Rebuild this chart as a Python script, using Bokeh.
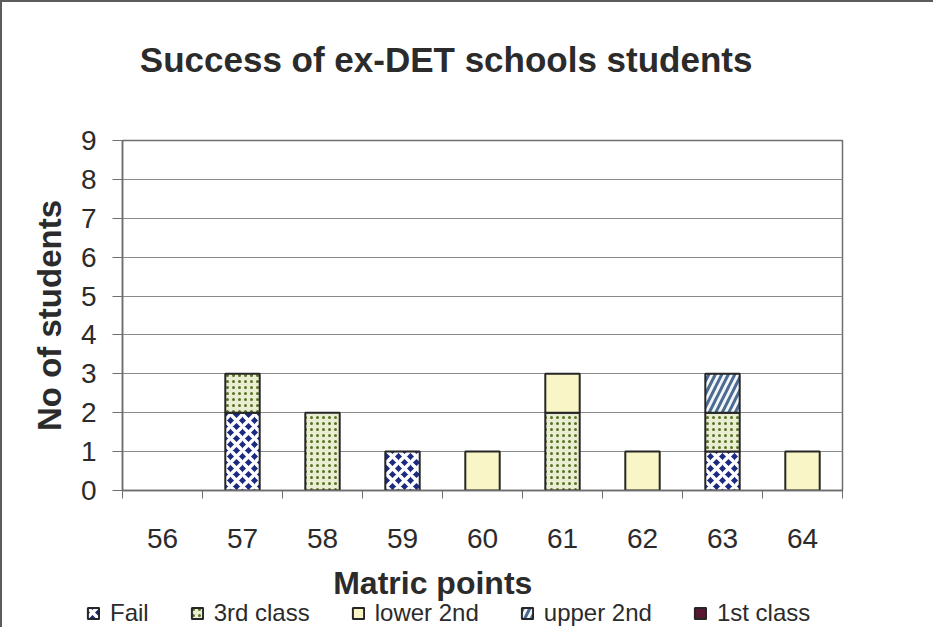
from bokeh.plotting import figure
from bokeh.layouts import column
from bokeh.models import (Range1d, FixedTicker, Label, Legend, LegendItem, ColumnDataSource)
from bokeh.embed import file_html
from bokeh.resources import INLINE

# ---- data ----
categories = ["56", "57", "58", "59", "60", "61", "62", "63", "64"]
fail = [0, 2, 0, 1, 0, 0, 0, 1, 0]
third_class = [0, 1, 2, 0, 0, 2, 0, 1, 0]
lower_2nd = [0, 0, 0, 0, 1, 1, 1, 0, 1]
upper_2nd = [0, 0, 0, 0, 0, 0, 0, 1, 0]
first_class = [0, 0, 0, 0, 0, 0, 0, 0, 0]
series_names = ["Fail", "3rd class", "lower 2nd", "upper 2nd", "1st class"]
y_ticks = list(range(10))

chart_title = "Success of ex-DET schools students"
x_title = "Matric points"
y_title = "No of students"

FONT = "Liberation Sans"
TXT = "#2b2b2b"
AX = "#6e6e6e"
BORDER = "2px solid #5c5c5c"
W = 931

series_values = [fail, third_class, lower_2nd, upper_2nd, first_class]
styles = [
    dict(fill_color="#1c2a80", hatch_pattern="x", hatch_color="white", hatch_scale=12, hatch_weight=3.5),
    dict(fill_color="#e9edd2", hatch_pattern="dot", hatch_color="#587223", hatch_scale=6, hatch_weight=5),
    dict(fill_color="#f9f5c6", hatch_pattern=" ", hatch_color="white", hatch_scale=10, hatch_weight=1),
    dict(fill_color="#f4f7fa", hatch_pattern="/", hatch_color="#4b6b93", hatch_scale=13, hatch_weight=3),
    dict(fill_color="#5a1734", hatch_pattern=" ", hatch_color="white", hatch_scale=10, hatch_weight=1),
]


def no_align(f):
    try:
        f.frame_align = False
    except Exception:
        pass


def blank_fig(h):
    f = figure(frame_width=W, frame_height=h, x_range=Range1d(0, W), y_range=Range1d(0, h),
               output_backend="svg", toolbar_location=None,
               x_axis_type=None, y_axis_type=None,
               min_border=0, min_border_left=0, min_border_right=0,
               min_border_top=0, min_border_bottom=0)
    f.outline_line_color = None
    f.background_fill_color = "white"
    f.border_fill_color = "white"
    f.xgrid.visible = False
    f.ygrid.visible = False
    no_align(f)
    return f


# ---------- title strip ----------
TH = 100
t = blank_fig(TH)
t.styles = {"border-left": BORDER, "border-top": BORDER}
t.add_layout(Label(x=137, y=TH - 56, text=chart_title, text_font=FONT, text_font_size="35px",
                   text_font_style="bold", text_color=TXT, text_align="left",
                   text_baseline="alphabetic"))

# ---------- main chart ----------
n = len(categories)
p = figure(width=W, height=455,
           x_range=Range1d(0, n), y_range=Range1d(0, y_ticks[-1]),
           output_backend="svg", toolbar_location=None,
           min_border_left=120, min_border_right=91,
           min_border_top=38, min_border_bottom=67)
no_align(p)
p.styles = {"border-left": BORDER}
p.background_fill_color = "white"
p.border_fill_color = "white"
p.outline_line_color = AX
p.outline_line_width = 1.5

xs = [i + 0.5 for i in range(n)]
bottoms = [0] * n
for name, vals, st in zip(series_names, series_values, styles):
    tops = [b + v for b, v in zip(bottoms, vals)]
    keep = [i for i in range(n) if vals[i] > 0]
    src = ColumnDataSource(dict(x=[xs[i] for i in keep],
                                bottom=[bottoms[i] for i in keep],
                                top=[tops[i] for i in keep]))
    p.vbar(x="x", bottom="bottom", top="top", width=0.43, source=src,
           line_color="#262626", line_width=2, **st)
    bottoms = tops

p.xgrid.grid_line_color = None
p.ygrid.grid_line_color = "#8a8a8a"
p.ygrid.grid_line_width = 1
p.ygrid.ticker = FixedTicker(ticks=y_ticks)

# x axis: labels at category centres, tick marks at category boundaries
xa = p.xaxis[0]
xa.ticker = FixedTicker(ticks=xs, minor_ticks=list(range(n + 1)))
xa.major_label_overrides = {x: c for x, c in zip(xs, categories)}
xa.major_tick_line_color = None
xa.major_tick_out = 0
xa.major_tick_in = 0
xa.minor_tick_out = 8
xa.minor_tick_in = 0
xa.minor_tick_line_color = AX
xa.axis_line_color = AX
xa.axis_line_width = 1.5
xa.major_label_standoff = 30
xa.major_label_text_font = FONT
xa.major_label_text_font_size = "28px"
xa.major_label_text_color = TXT

ya = p.yaxis[0]
ya.ticker = FixedTicker(ticks=y_ticks)
ya.major_tick_out = 10
ya.major_tick_in = 0
ya.major_tick_line_color = AX
ya.minor_tick_line_color = None
ya.axis_line_color = AX
ya.axis_line_width = 1.5
ya.major_label_standoff = 16
ya.major_label_text_font = FONT
ya.major_label_text_font_size = "28px"
ya.major_label_text_color = TXT
ya.axis_label = y_title
ya.axis_label_standoff = 10
ya.axis_label_text_font = FONT
ya.axis_label_text_font_size = "33px"
ya.axis_label_text_font_style = "bold"
ya.axis_label_text_color = TXT

# ---------- x title + legend strip ----------
BH = 70
q = blank_fig(BH)
q.styles = {"border-left": BORDER}
q.add_layout(Label(x=330, y=BH - 25, text=x_title, text_font=FONT, text_font_size="32px",
                   text_font_style="bold", text_color=TXT, text_align="left",
                   text_baseline="alphabetic"))
items = []
nan = float("nan")
for name, st in zip(series_names, styles):
    proxy = q.vbar(x=[nan], bottom=[nan], top=[nan], width=1,
                   line_color="#262626", line_width=2, **st)
    items.append(LegendItem(label=name, renderers=[proxy]))
legend = Legend(items=items, orientation="horizontal", location=(84, 0),
                padding=0, margin=0, spacing=41, label_standoff=10,
                glyph_width=14, glyph_height=14,
                label_text_font=FONT, label_text_font_size="24px", label_text_color=TXT,
                border_line_color=None, background_fill_alpha=0)
q.add_layout(legend, "center")

layout = column(t, p, q, spacing=0)
open("out.html", "w").write(file_html(layout, INLINE))
